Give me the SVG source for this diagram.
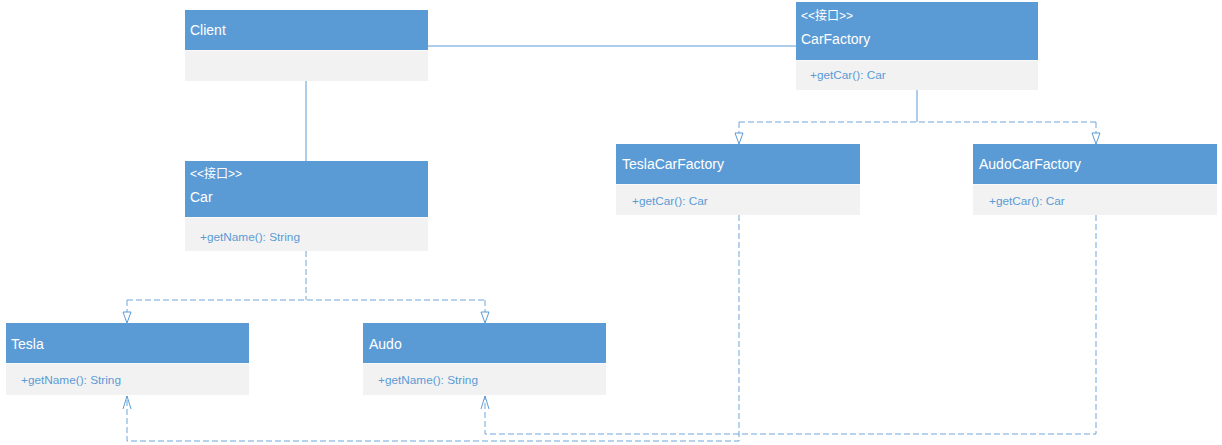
<svg xmlns="http://www.w3.org/2000/svg" width="1222" height="445" viewBox="0 0 1222 445">
<style>
.hd{fill:#5B9BD5}
.bd{fill:#F2F2F2}
.sep{stroke:#ffffff;stroke-width:1;opacity:0.6}
.t{font-family:"Liberation Sans","Noto Sans CJK SC",sans-serif;fill:#ffffff;font-size:14px}
.st{font-family:"Liberation Sans","Noto Sans CJK SC",sans-serif;fill:#ffffff;font-size:12px}
.m{font-family:"Liberation Sans",sans-serif;fill:#5B9BD5;font-size:11.8px}
.solid{fill:none;stroke:#5B9BD5;stroke-width:1}
.dash{fill:none;stroke:#6FA5DB;stroke-width:1;stroke-dasharray:6,3}
.open{fill:none;stroke:#5B9BD5;stroke-width:1}
.tri{fill:#ffffff;stroke:#5B9BD5;stroke-width:1}
</style>
<rect width="1222" height="445" fill="#ffffff"/>

<g id="connectors">
<path class="solid" d="M428,46 L796,46"/>
<path class="solid" d="M306,81 L306,161"/>
<path class="dash" d="M306,251 L306,300"/>
<path class="dash" d="M127,300 L485,300"/>
<path class="dash" d="M127,300 L127,312"/>
<path class="dash" d="M485,300 L485,312"/>
<path class="tri" d="M123,312 L131,312 L127,323 Z"/>
<path class="tri" d="M481,312 L489,312 L485,323 Z"/>
<path class="solid" d="M917,90 L917,122"/>
<path class="dash" d="M739,122 L1096,122"/>
<path class="dash" d="M739,122 L739,133"/>
<path class="dash" d="M1096,122 L1096,133"/>
<path class="tri" d="M735,133 L743,133 L739,144 Z"/>
<path class="tri" d="M1092,133 L1100,133 L1096,144 Z"/>
<path class="dash" d="M739,215 L739,441 L127,441 L127,396"/>
<path class="open" d="M123,409 L127,396 L131,409"/>
<path class="dash" d="M1096,215 L1096,434 L485,434 L485,396"/>
<path class="open" d="M481,409 L485,396 L489,409"/>
</g>

<g id="client">
<rect class="hd" x="185" y="10" width="243" height="40"/>
<rect class="bd" x="185" y="50" width="243" height="31"/>
<line class="sep" x1="185" y1="50.5" x2="428" y2="50.5"/>
<text class="t" x="190" y="35">Client</text>
</g>

<g id="carfactory">
<rect class="hd" x="796" y="2" width="242" height="58"/>
<rect class="bd" x="796" y="60" width="242" height="30"/>
<line class="sep" x1="796" y1="60.5" x2="1038" y2="60.5"/>
<text class="st" x="801" y="20">&lt;&lt;接口&gt;&gt;</text>
<text class="t" x="801" y="44">CarFactory</text>
<text class="m" x="810" y="79">+getCar(): Car</text>
</g>

<g id="car">
<rect class="hd" x="185" y="161" width="243" height="56"/>
<rect class="bd" x="185" y="217" width="243" height="34"/>
<line class="sep" x1="185" y1="217.5" x2="428" y2="217.5"/>
<text class="st" x="190" y="178">&lt;&lt;接口&gt;&gt;</text>
<text class="t" x="190" y="202">Car</text>
<text class="m" x="200" y="241">+getName(): String</text>
</g>

<g id="tesla">
<rect class="hd" x="6" y="323" width="243" height="40"/>
<rect class="bd" x="6" y="363" width="243" height="32"/>
<line class="sep" x1="6" y1="363.5" x2="249" y2="363.5"/>
<text class="t" x="11" y="349">Tesla</text>
<text class="m" x="21" y="384">+getName(): String</text>
</g>

<g id="audo">
<rect class="hd" x="363" y="323" width="243" height="40"/>
<rect class="bd" x="363" y="363" width="243" height="32"/>
<line class="sep" x1="363" y1="363.5" x2="606" y2="363.5"/>
<text class="t" x="369" y="349">Audo</text>
<text class="m" x="378" y="384">+getName(): String</text>
</g>

<g id="teslacarfactory">
<rect class="hd" x="616" y="144" width="244" height="40"/>
<rect class="bd" x="616" y="184" width="244" height="31"/>
<line class="sep" x1="616" y1="184.5" x2="860" y2="184.5"/>
<text class="t" x="622" y="169">TeslaCarFactory</text>
<text class="m" x="632" y="205">+getCar(): Car</text>
</g>

<g id="audocarfactory">
<rect class="hd" x="973" y="144" width="244" height="40"/>
<rect class="bd" x="973" y="184" width="244" height="31"/>
<line class="sep" x1="973" y1="184.5" x2="1217" y2="184.5"/>
<text class="t" x="979" y="169">AudoCarFactory</text>
<text class="m" x="989" y="205">+getCar(): Car</text>
</g>
</svg>
